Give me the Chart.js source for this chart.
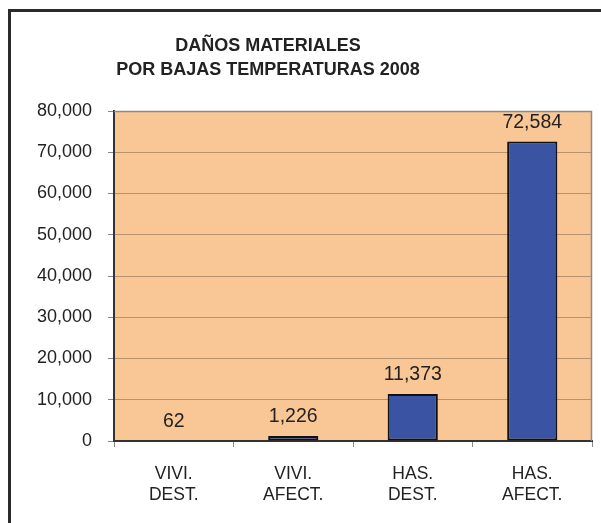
<!DOCTYPE html>
<html><head><meta charset="utf-8">
<script src="https://cdn.jsdelivr.net/npm/chart.js@4"></script>
<style>html,body{margin:0;padding:0;background:#fff;}#w{position:relative;width:601px;height:523px;}</style>
</head><body><div id="w"><canvas id="c" width="601" height="523"></canvas></div>
<script>
const titleLines = ["DAÑOS MATERIALES", "POR BAJAS TEMPERATURAS 2008"];
const categories = [["VIVI.", "DEST."], ["VIVI.", "AFECT."], ["HAS.", "DEST."], ["HAS.", "AFECT."]];
const values = [62, 1226, 11373, 72584];
const yMax = 80000;
const yStep = 10000;

const FONT = "'Liberation Sans', Arial, sans-serif";

const framePlugin = {
  id: 'frame',
  beforeDraw(chart) {
    const ctx = chart.ctx, a = chart.chartArea;
    ctx.save();
    ctx.fillStyle = '#fff';
    ctx.fillRect(0, 0, chart.width, chart.height);
    ctx.strokeStyle = '#2b2b2b';
    ctx.lineWidth = 3;
    ctx.beginPath();
    ctx.moveTo(9.5, chart.height + 5);
    ctx.lineTo(9.5, 10.5);
    ctx.lineTo(chart.width + 5, 10.5);
    ctx.stroke();
    ctx.fillStyle = '#F9C695';
    ctx.fillRect(a.left, a.top, a.right - a.left, a.bottom - a.top);
    ctx.restore();
  },
  afterDatasetsDraw(chart) {
    const ctx = chart.ctx, a = chart.chartArea;
    ctx.save();
    ctx.strokeStyle = '#8a8a8a';
    ctx.lineWidth = 1.5;
    ctx.beginPath();
    ctx.moveTo(a.left, a.top + 0.5);
    ctx.lineTo(a.right - 0.5, a.top + 0.5);
    ctx.lineTo(a.right - 0.5, a.bottom);
    ctx.stroke();
    // title
    ctx.fillStyle = '#222';
    ctx.font = 'bold 18px ' + FONT;
    ctx.textAlign = 'center';
    ctx.textBaseline = 'middle';
    titleLines.forEach((t, i) => ctx.fillText(t, 268, 46 + i * 24));
    // data labels
    ctx.font = '19.5px ' + FONT;
    ctx.textBaseline = 'alphabetic';
    const meta = chart.getDatasetMeta(0);
    meta.data.forEach((bar, i) => {
      ctx.fillText(values[i].toLocaleString('en-US'), bar.x, bar.y - 14);
    });
    ctx.restore();
  }
};

new Chart(document.getElementById('c'), {
  type: 'bar',
  data: {
    labels: categories,
    datasets: [{
      data: values,
      backgroundColor: '#3A54A3',
      borderColor: '#111',
      borderWidth: 2,
      borderSkipped: false,
      categoryPercentage: 1,
      barPercentage: 0.42
    }]
  },
  options: {
    responsive: false,
    animation: false,
    devicePixelRatio: 1,
    layout: { padding: { left: 0, top: 111, right: 9, bottom: 0 } },
    plugins: { legend: { display: false }, tooltip: { enabled: false }, title: { display: false } },
    scales: {
      x: {
        afterFit(s) { s.height = 82; },
        grid: { display: true, drawOnChartArea: false, offset: true, tickLength: 6, tickColor: '#888', tickWidth: 1 },
        border: { display: true, color: '#333', width: 2 },
        ticks: { color: '#222', font: { family: FONT, size: 17.5, lineHeight: 1.2 }, padding: 17, maxRotation: 0, autoSkip: false }
      },
      y: {
        min: 0, max: yMax,
        afterFit(s) { s.width = 114; },
        grid: { color: '#B8916E', lineWidth: 1, tickLength: 6, tickColor: '#888', drawTicks: true },
        border: { display: true, color: '#333', width: 2 },
        ticks: {
          stepSize: yStep,
          color: '#222',
          font: { family: FONT, size: 18 },
          padding: 16,
          callback: v => v.toLocaleString('en-US')
        }
      }
    }
  },
  plugins: [framePlugin]
});
</script>
</body></html>
